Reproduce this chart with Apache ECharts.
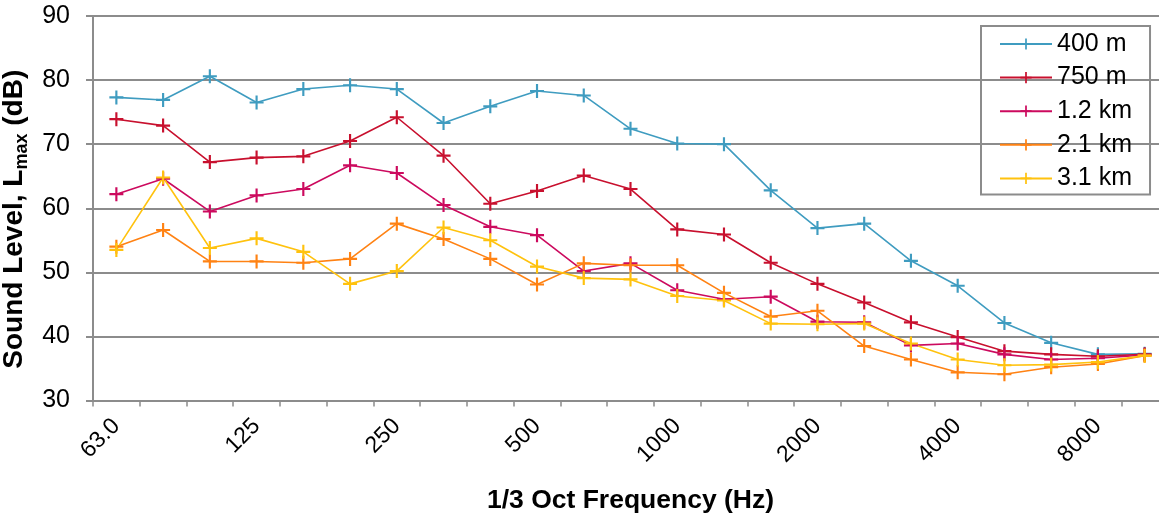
<!DOCTYPE html>
<html>
<head>
<meta charset="utf-8">
<script src="https://cdn.jsdelivr.net/npm/echarts@6/dist/echarts.min.js"></script>
<style>
html,body{margin:0;padding:0;background:#fff;}
#chart{width:1159px;height:521px;}
</style>
</head>
<body>
<div id="chart"></div>
<script>
const frequencies = ['63.0','80','100','125','160','200','250','315','400','500','630','800','1000','1250','1600','2000','2500','3150','4000','5000','6300','8000','10000'];
const seriesNames = ['400 m','750 m','1.2 km','2.1 km','3.1 km'];
const s400m  = [77.3, 76.9, 80.6, 76.5, 78.6, 79.2, 78.6, 73.3, 75.9, 78.3, 77.6, 72.4, 70.1, 70.0, 62.8, 56.9, 57.6, 51.8, 47.9, 42.1, 39.0, 37.2, 37.3];
const s750m  = [73.9, 72.9, 67.2, 67.9, 68.1, 70.5, 74.2, 68.2, 60.7, 62.7, 65.1, 63.0, 56.7, 55.9, 51.5, 48.2, 45.3, 42.2, 39.9, 37.7, 37.2, 36.9, 37.2];
const s1_2km = [62.2, 64.6, 59.5, 62.0, 63.0, 66.7, 65.5, 60.5, 57.1, 55.8, 50.2, 51.4, 47.2, 45.8, 46.2, 42.3, 42.2, 38.6, 38.9, 37.2, 36.4, 36.6, 37.1];
const s2_1km = [54.0, 56.6, 51.7, 51.7, 51.5, 52.1, 57.6, 55.2, 52.1, 48.1, 51.4, 51.1, 51.1, 46.8, 43.1, 44.0, 38.5, 36.4, 34.4, 34.1, 35.2, 35.7, 37.0];
const s3_1km = [53.5, 64.8, 53.8, 55.3, 53.2, 48.2, 50.2, 57.0, 55.0, 50.9, 49.1, 48.9, 46.3, 45.6, 42.0, 41.9, 42.0, 38.9, 36.4, 35.5, 35.6, 36.0, 37.0];
const yTicks = [30, 40, 50, 60, 70, 80, 90];

const colors = ['#3F9CC0', '#C8102E', '#CC0A5E', '#FF8213', '#FFC20E'];
const allData = [s400m, s750m, s1_2km, s2_1km, s3_1km];
const plusPath = 'path://M5.5,0 H7.5 V5.5 H13 V7.5 H7.5 V13 H5.5 V7.5 H0 V5.5 H5.5 Z';
const FONT = '"Liberation Sans", Arial, sans-serif';

const chart = echarts.init(document.getElementById('chart'), null, {renderer: 'canvas'});
chart.setOption({
  animation: false,
  backgroundColor: '#fff',
  textStyle: {fontFamily: FONT},
  grid: {left: 93, right: -9, top: 16, bottom: 120.5, containLabel: false, outerBoundsMode: 'none'},
  legend: {
    orient: 'vertical',
    left: 981, top: 26,
    padding: [5.5, 18, 3.5, 18],
    itemWidth: 52, itemHeight: 14, itemGap: 8.6,
    itemTextGap: 5,
    borderColor: '#8c8c8c', borderWidth: 2,
    textStyle: {fontFamily: FONT, fontSize: 25, color: '#000'},
    data: seriesNames
  },
  xAxis: {
    type: 'category',
    data: frequencies,
    boundaryGap: true,
    axisLine: {lineStyle: {color: '#8c8c8c', width: 2}},
    axisTick: {show: true, interval: 0, length: 6, lineStyle: {color: '#8c8c8c', width: 1.5}},
    axisLabel: {interval: 2, rotate: 45, margin: 22, fontSize: 23, color: '#000', fontFamily: FONT},
    splitLine: {show: false},
    name: '1/3 Oct Frequency (Hz)',
    nameLocation: 'middle',
    nameGap: 87,
    nameTextStyle: {fontSize: 26.5, fontWeight: 'bold', color: '#000', fontFamily: FONT}
  },
  yAxis: {
    type: 'value',
    min: yTicks[0], max: yTicks[yTicks.length - 1], interval: 10,
    axisLine: {show: true, lineStyle: {color: '#8c8c8c', width: 2}},
    axisTick: {show: true, length: 7, lineStyle: {color: '#8c8c8c', width: 2}},
    axisLabel: {margin: 23, fontSize: 25, color: '#000', fontFamily: FONT},
    splitLine: {show: true, lineStyle: {color: '#8c8c8c', width: 2}},
    name: '{m|Sound Level, L}{s|max}{m| (dB)}',
    nameLocation: 'middle',
    nameGap: 54,
    nameTextStyle: {
      padding: [0, 22, 0, 0],
      rich: {
        m: {fontSize: 28, fontWeight: 'bold', color: '#000', fontFamily: FONT, lineHeight: 34},
        s: {fontSize: 18, fontWeight: 'bold', color: '#000', fontFamily: FONT, lineHeight: 18, verticalAlign: 'bottom'}
      }
    }
  },
  series: seriesNames.map((n, i) => ({
    name: n,
    type: 'line',
    data: allData[i],
    symbol: plusPath,
    symbolSize: 14,
    showSymbol: true,
    lineStyle: {color: colors[i], width: 1.6},
    itemStyle: {color: colors[i]},
    emphasis: {disabled: true}
  }))
});
</script>
</body>
</html>
